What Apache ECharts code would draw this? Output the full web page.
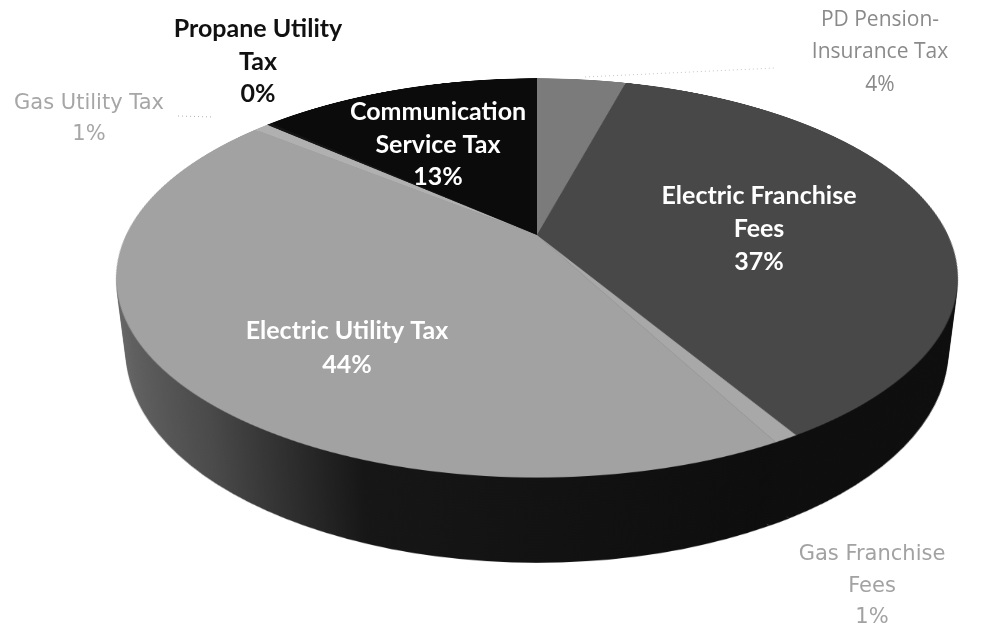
<!DOCTYPE html>
<html>
<head>
<meta charset="utf-8">
<script src="https://cdn.jsdelivr.net/npm/echarts@6/dist/echarts.min.js"></script>
<style>
  html, body { margin: 0; padding: 0; background: #fff; width: 985px; height: 631px; overflow: hidden; }
  #scene { position: absolute; left: 0; top: 0; width: 985px; height: 631px;
           perspective: 1695px; perspective-origin: 537px 235px; }
  #disc { position: absolute; left: 117px; top: -185px; width: 840px; height: 840px;
          transform-style: preserve-3d; transform: rotateX(62.4deg); }
  .layer { position: absolute; left: 0; top: 0; width: 840px; height: 840px; }
  #labels { position: absolute; left: 0; top: 0; width: 985px; height: 631px; }
</style>
</head>
<body>
<div id="scene"><div id="disc"></div></div>
<div id="labels"></div>
<script>
// Revenue shares (percent), in clockwise order from 12 o'clock
const categories = [
  'PD Pension-\nInsurance Tax',
  'Electric Franchise\nFees',
  'Gas Franchise\nFees',
  'Electric Utility Tax',
  'Gas Utility Tax',
  'Propane Utility\nTax',
  'Communication\nService Tax'
];
const values = [4.2, 37.2, 0.8, 43.6, 0.7, 0.2, 13.3];

const total = values.reduce((a, b) => a + b, 0);
const pctText = values.map(v => Math.round(v / total * 100) + '%');

// Slice fills for the top face and the side wall
const topColors = ['#7b7b7b', '#484848', '#a8a8a8', '#a2a2a2', '#b0b0b0', '#151515', '#0b0b0b'];
const wallColors = [
  '#2a2a2a', '#0e0e0e', '#0e0e0e',
  new echarts.graphic.LinearGradient(0, 0, 1, 0, [
    { offset: 0, color: '#6a6a6a' },
    { offset: 0.22, color: '#4a4a4a' },
    { offset: 0.45, color: '#161616' },
    { offset: 1, color: '#0d0d0d' }
  ]),
  '#3a3a3a', '#111111', '#080808'
];

function pieOption(colors) {
  return {
    animation: false,
    series: [{
      type: 'pie',
      center: ['50%', '50%'],
      radius: [0, 411],
      startAngle: 90,
      clockwise: true,
      silent: true,
      label: { show: false },
      labelLine: { show: false },
      itemStyle: { borderWidth: 0 },
      data: categories.map((name, i) => ({
        name: name, value: values[i], itemStyle: { color: colors[i] }
      }))
    }]
  };
}

// Extruded disc: stacked wall layers below the top face
const disc = document.getElementById('disc');
const depth = 84, step = 3;
for (let d = depth; d >= 0; d -= step) {
  const el = document.createElement('div');
  el.className = 'layer';
  el.style.transform = 'translateZ(' + (-d) + 'px)';
  disc.appendChild(el);
  const isTop = d === 0;
  const chart = echarts.init(el, null, { renderer: 'canvas', devicePixelRatio: isTop ? 2 : 1 });
  chart.setOption(pieOption(isTop ? topColors : wallColors));
}

// Data label styles: inside labels bold white, outside labels take the slice tone
const labelStyles = [
  { x: 880, y: 20, color: '#8a8a8a', font: 'Open Sans', weight: 'normal', size: 21, lh: 32.5 },
  { x: 759, y: 196, color: '#ffffff', font: 'Lato', weight: 'bold', size: 25, lh: 33 },
  { x: 872, y: 555, color: '#a2a2a2', font: 'DejaVu Sans', weight: 'normal', size: 21, lh: 31.5 },
  { x: 347, y: 331, color: '#ffffff', font: 'Lato', weight: 'bold', size: 25, lh: 34 },
  { x: 89, y: 104, color: '#a6a6a6', font: 'DejaVu Sans', weight: 'normal', size: 21, lh: 30.5 },
  { x: 258, y: 29, color: '#111111', font: 'Lato', weight: 'bold', size: 25, lh: 32.5 },
  { x: 438, y: 112, color: '#ffffff', font: 'Lato', weight: 'bold', size: 25, lh: 32.5 }
];
const elements = categories.map((name, i) => {
  const s = labelStyles[i];
  return {
    type: 'text', x: s.x, y: s.y - s.lh / 2, silent: true,
    style: {
      text: name + '\n' + pctText[i],
      fill: s.color,
      fontFamily: s.font,
      fontWeight: s.weight,
      fontSize: s.size,
      lineHeight: s.lh,
      align: 'center',
      verticalAlign: 'top'
    }
  };
});
// Leader lines for the two outside labels near the top rim
elements.push({ type: 'line', silent: true, shape: { x1: 178, y1: 116, x2: 214, y2: 117 },
  style: { stroke: '#b0b0b0', lineWidth: 1, lineDash: [1, 3] } });
elements.push({ type: 'line', silent: true, shape: { x1: 585, y1: 77, x2: 775, y2: 68 },
  style: { stroke: '#c4c4c4', lineWidth: 1, lineDash: [1, 3] } });

const labelChart = echarts.init(document.getElementById('labels'));
labelChart.setOption({ animation: false, graphic: { elements: elements } });
</script>
</body>
</html>
